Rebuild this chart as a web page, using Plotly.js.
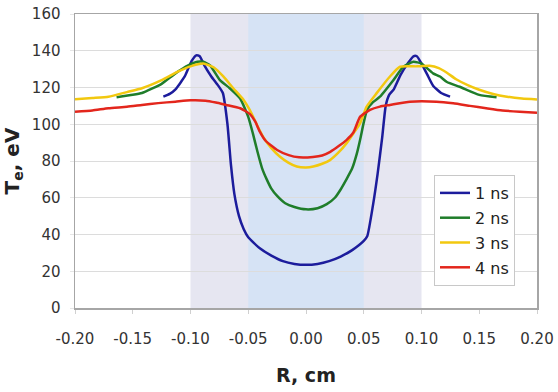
<!DOCTYPE html>
<html>
<head>
<meta charset="utf-8">
<script src="https://cdn.plot.ly/plotly-3.0.1.min.js"></script>
<style>html,body{margin:0;padding:0;background:#fff;}#chart{width:558px;height:392px;}</style>
</head>
<body>
<div id="chart"></div>
<script>
// Series names
const seriesNames = ["1 ns", "2 ns", "3 ns", "4 ns"];

// 1 ns
const r1 = [-0.1235,-0.118,-0.113,-0.105,-0.099,-0.095,-0.092,-0.088,-0.082,-0.076,-0.072,-0.068,-0.065,-0.062,-0.058,-0.054,-0.05,-0.04,-0.03,-0.02,-0.01,0,0.01,0.02,0.03,0.04,0.05,0.053,0.058,0.062,0.066,0.069,0.072,0.076,0.082,0.088,0.093,0.096,0.10,0.105,0.11,0.117,0.1247];
const t1 = [115,116.5,119,126,134.5,137.5,137,132,126,121,117,100,78,62,50,43,38.5,32.5,28.5,25.5,24,23.5,24,25.5,28,31.5,36.5,39,56,73,93,110,116,119,127,133,137,137,133,127,121,117,115];

// 2 ns
const r2 = [-0.164,-0.150,-0.142,-0.133,-0.125,-0.113,-0.102,-0.094,-0.089,-0.083,-0.0745,-0.066,-0.057,-0.050,-0.046,-0.042,-0.038,-0.034,-0.030,-0.025,-0.018,-0.010,0,0.010,0.018,0.025,0.030,0.035,0.040,0.044,0.047,0.050,0.053,0.058,0.064,0.0756,0.0843,0.093,0.100,0.110,0.116,0.122,0.133,0.150,0.165];
const t2 = [114.7,116,117,119.5,122,127.7,132,134,134,132,124,119.6,114,104,95,85,76,70,65,61,57,55,53.7,54.3,56.5,60,64.5,70,76,84,92,101,108,112,115,124,131.3,134,133,127.7,126,123,120.4,116,114.7];

// 3 ns
const r3 = [-0.2,-0.185,-0.171,-0.155,-0.142,-0.125,-0.111,-0.100,-0.089,-0.080,-0.0716,-0.063,-0.054,-0.0485,-0.042,-0.037,-0.030,-0.0225,-0.015,-0.008,0,0.0063,0.014,0.0208,0.028,0.035,0.041,0.0468,0.0525,0.061,0.0727,0.0814,0.0958,0.107,0.115,0.122,0.130,0.140,0.150,0.162,0.174,0.187,0.2];
const t3 = [113.6,114.3,115,117.5,119.6,124,128.6,131.5,133,131,126,119.6,113.2,107.5,99,93,87,82.3,79,77,76.5,77,78.5,80.5,84.5,89.6,95,100.5,109.6,116.8,126,131.3,131.5,131.8,130.5,128,124.5,121.3,118.8,116.5,115,114,113.5];

// 4 ns
const r4 = [-0.2,-0.185,-0.171,-0.155,-0.142,-0.128,-0.113,-0.100,-0.087,-0.078,-0.069,-0.057,-0.0485,-0.044,-0.040,-0.035,-0.025,-0.015,-0.006,0.006,0.014,0.021,0.028,0.035,0.041,0.0468,0.0554,0.064,0.0727,0.090,0.113,0.1275,0.142,0.156,0.170,0.185,0.2];
const t4 = [106.8,107.5,108.7,109.5,110.5,111.5,112.3,113,112.8,111.8,110.5,108.7,105.5,101.5,96,91,86,83.2,82,82.2,83,85,88,91.4,95.5,104,107.8,109.6,110.5,112.3,112.3,111.4,110,108.7,107.5,106.8,106.3];

// Shaded zones (R, cm)
const outerZone = [-0.10, 0.10];
const innerZone = [-0.05, 0.05];

// Ticks
const xTicks = [-0.20,-0.15,-0.10,-0.05,0.00,0.05,0.10,0.15,0.20];
const xTickText = ["-0.20","-0.15","-0.10","-0.05","0.00","0.05","0.10","0.15","0.20"];
const yTicks = [0,20,40,60,80,100,120,140,160];

const colors = ["#1c1c9c", "#1f7d2a", "#f2c80f", "#e3261c"];
const xs = [r1, r2, r3, r4];
const ys = [t1, t2, t3, t4];

const traces = xs.map((x, i) => ({
  type: "scatter", mode: "lines", x: x, y: ys[i], name: seriesNames[i],
  legendgroup: "g" + i,
  line: {color: colors[i], width: 2.5, shape: "spline", smoothing: 0.5}
}));

const font = "DejaVu Sans, Verdana, sans-serif";

const layout = {
  width: 558, height: 392,
  margin: {l: 75, r: 21, t: 14, b: 84},
  paper_bgcolor: "#ffffff",
  plot_bgcolor: "#ffffff",
  showlegend: true,
  legend: {
    x: (434 - 75)/462, xref: "paper", xanchor: "left",
    y: 1 - (175 - 14)/294, yanchor: "top",
    bgcolor: "#ffffff", bordercolor: "#c8c8c8", borderwidth: 1,
    font: {family: font, size: 16, color: "#222"},
    tracegroupgap: 1,
    itemwidth: 30
  },
  xaxis: {
    range: [-0.2, 0.2],
    tickmode: "array", tickvals: xTicks, ticktext: xTickText,
    showgrid: false, zeroline: false,
    showline: true, linecolor: "#a6a6a6", linewidth: 1.5, mirror: true,
    ticks: "outside", ticklen: 4, tickcolor: "#d0d0d0",
    ticklabelstandoff: 12,
    tickfont: {family: font, size: 15, color: "#333"},
    title: {text: "R, cm", font: {family: font, size: 19, color: "#222", weight: "bold"}, standoff: 22}
  },
  yaxis: {
    range: [0, 160],
    tickmode: "array", tickvals: yTicks,
    showgrid: true, gridcolor: "#dcdcdc", gridwidth: 1,
    zeroline: false,
    showline: true, linecolor: "#a6a6a6", linewidth: 1.5, mirror: true,
    ticks: "outside", ticklen: 4, tickcolor: "#e6e6e6",
    ticklabelstandoff: 6,
    tickfont: {family: font, size: 15, color: "#333"},
    title: {text: "T<sub>e</sub>, eV", font: {family: font, size: 20, color: "#222", weight: "bold"}, standoff: 10}
  },
  shapes: [
    {type: "rect", xref: "x", yref: "paper", x0: outerZone[0], x1: outerZone[1], y0: 0, y1: 1,
     fillcolor: "#e6e6f1", line: {width: 0}, layer: "below"},
    {type: "rect", xref: "x", yref: "paper", x0: innerZone[0], x1: innerZone[1], y0: 0, y1: 1,
     fillcolor: "#d6e3f5", line: {width: 0}, layer: "below"}
  ]
};

Plotly.newPlot("chart", traces, layout, {staticPlot: true, displayModeBar: false});
</script>
</body>
</html>
